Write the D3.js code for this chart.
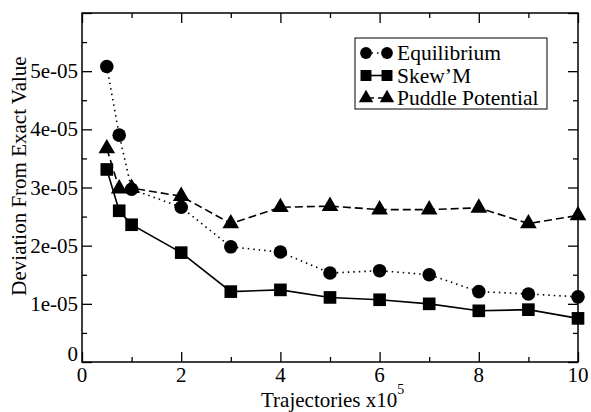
<!DOCTYPE html>
<html>
<head>
<meta charset="utf-8">
<script src="https://cdn.jsdelivr.net/npm/d3@7"></script>
<style>
  body { margin: 0; background: #fff; }
  svg text { font-family: "Liberation Serif", "Times New Roman", "DejaVu Serif", serif; fill: #000; }
</style>
</head>
<body>
<div id="chart"></div>
<script>
// Chart Data (x in units of 1e5 trajectories)
const xValues = [0.5, 0.75, 1, 2, 3, 4, 5, 6, 7, 8, 9, 10];
const equilibrium = [5.08e-5, 3.90e-5, 2.97e-5, 2.66e-5, 1.98e-5, 1.89e-5, 1.53e-5, 1.57e-5, 1.50e-5, 1.21e-5, 1.17e-5, 1.12e-5];
const skewM = [3.31e-5, 2.60e-5, 2.36e-5, 1.88e-5, 1.21e-5, 1.24e-5, 1.11e-5, 1.07e-5, 1.00e-5, 0.88e-5, 0.90e-5, 0.75e-5];
const puddle = [3.67e-5, 2.98e-5, 2.99e-5, 2.85e-5, 2.38e-5, 2.66e-5, 2.68e-5, 2.62e-5, 2.62e-5, 2.65e-5, 2.38e-5, 2.52e-5];
const seriesNames = ["Equilibrium", "Skew\u2019M", "Puddle Potential"];
const xTicks = [0, 2, 4, 6, 8, 10];
const yTicks = [0, 1e-5, 2e-5, 3e-5, 4e-5, 5e-5];
const yTickLabels = ["0", "1e-05", "2e-05", "3e-05", "4e-05", "5e-05"];

// Dimensions
let w = 591, h = 412;
let margin = { left: 82, top: 13, right: 13, bottom: 50 };
let pw = w - margin.left - margin.right, ph = h - margin.top - margin.bottom;
const serif = "'Liberation Serif', 'Times New Roman', serif";

let svg = d3.select("#chart").append("svg").attr("width", w).attr("height", h)
  .attr("font-family", serif);
let g = svg.append("g").attr("transform", "translate(" + margin.left + "," + margin.top + ")");

// Scales
let x = d3.scaleLinear().domain([0, 10]).range([0, pw]);
let y = d3.scaleLinear().domain([0, 6e-5]).range([ph, 0]);

// Inward Ticks, Major And Minor, Mirrored On Top And Right
const minorX = d3.range(1, 10, 2);
const minorY = d3.range(0.5e-5, 6e-5, 1e-5);
function ticks(axisFn, scale, values, size, transform) {
  g.append("g").attr("transform", transform)
    .call(axisFn(scale).tickValues(values).tickSize(size).tickFormat(""))
    .call(s => s.select(".domain").remove())
    .selectAll("line").attr("stroke", "#000").attr("stroke-width", 1.3);
}
ticks(d3.axisTop, x, xTicks, 10, "translate(0," + ph + ")");
ticks(d3.axisTop, x, minorX, 5, "translate(0," + ph + ")");
ticks(d3.axisBottom, x, xTicks, 10, "translate(0,0)");
ticks(d3.axisBottom, x, minorX, 5, "translate(0,0)");
ticks(d3.axisRight, y, yTicks.concat([6e-5]), 10, "translate(0,0)");
ticks(d3.axisRight, y, minorY, 5, "translate(0,0)");
ticks(d3.axisLeft, y, yTicks.concat([6e-5]), 10, "translate(" + pw + ",0)");
ticks(d3.axisLeft, y, minorY, 5, "translate(" + pw + ",0)");

// Frame
g.append("rect").attr("width", pw).attr("height", ph)
  .attr("fill", "none").attr("stroke", "#000").attr("stroke-width", 1.5);

// Tick Labels
g.selectAll("text.xl").data(xTicks).enter().append("text")
  .attr("class", "xl").attr("x", d => x(d)).attr("y", ph + 20)
  .attr("text-anchor", "middle").attr("font-size", 21).text(d => d);
g.selectAll("text.yl").data(yTicks).enter().append("text")
  .attr("class", "yl").attr("x", -4).attr("y", (d, i) => i == 0 ? y(d) - 1 : y(d) + 7)
  .attr("text-anchor", "end").attr("font-size", 21).text((d, i) => yTickLabels[i]);

// Axis Titles
let xt = svg.append("text").attr("x", 261).attr("y", 407).attr("font-size", 21);
xt.append("tspan").text("Trajectories x10");
xt.append("tspan").attr("dy", -13).attr("font-size", 14).text("5");
svg.append("text").attr("transform", "translate(26,176) rotate(-90)")
  .attr("text-anchor", "middle").attr("font-size", 21).text("Deviation From Exact Value");

// Series
const series = [
  { values: equilibrium, dash: "1.5,4", symbol: d3.symbolCircle, size: 145 },
  { values: skewM, dash: null, symbol: d3.symbolSquare, size: 160 },
  { values: puddle, dash: "8,4", symbol: d3.symbolTriangle, size: 120 }
];
let line = d3.line().x(d => x(d[0])).y(d => y(d[1]));

series.forEach(s => {
  let pts = xValues.map((v, i) => [v, s.values[i]]);
  g.append("path").datum(pts).attr("d", line).attr("fill", "none")
    .attr("stroke", "#000").attr("stroke-width", 1.6)
    .attr("stroke-dasharray", s.dash);
  g.selectAll(null).data(pts).enter().append("path")
    .attr("d", d3.symbol().type(s.symbol).size(s.size))
    .attr("transform", d => "translate(" + x(d[0]) + "," + y(d[1]) + ")")
    .attr("fill", "#000");
});

// Legend
let lg = svg.append("g");
lg.append("rect").attr("x", 355).attr("y", 38).attr("width", 192).attr("height", 71)
  .attr("fill", "#fff").attr("stroke", "#000").attr("stroke-width", 1);
series.forEach((s, i) => {
  let cy = 53 + i * 22.5;
  lg.append("line").attr("x1", 366).attr("x2", 387).attr("y1", cy).attr("y2", cy)
    .attr("stroke", "#000").attr("stroke-width", 1.6).attr("stroke-dasharray", s.dash);
  [366, 387].forEach(cx => {
    lg.append("path").attr("d", d3.symbol().type(s.symbol).size(s.size * 0.75))
      .attr("transform", "translate(" + cx + "," + cy + ")").attr("fill", "#000");
  });
  lg.append("text").attr("x", 397).attr("y", cy + 7).attr("font-size", 21.5).text(seriesNames[i]);
});
</script>
</body>
</html>
